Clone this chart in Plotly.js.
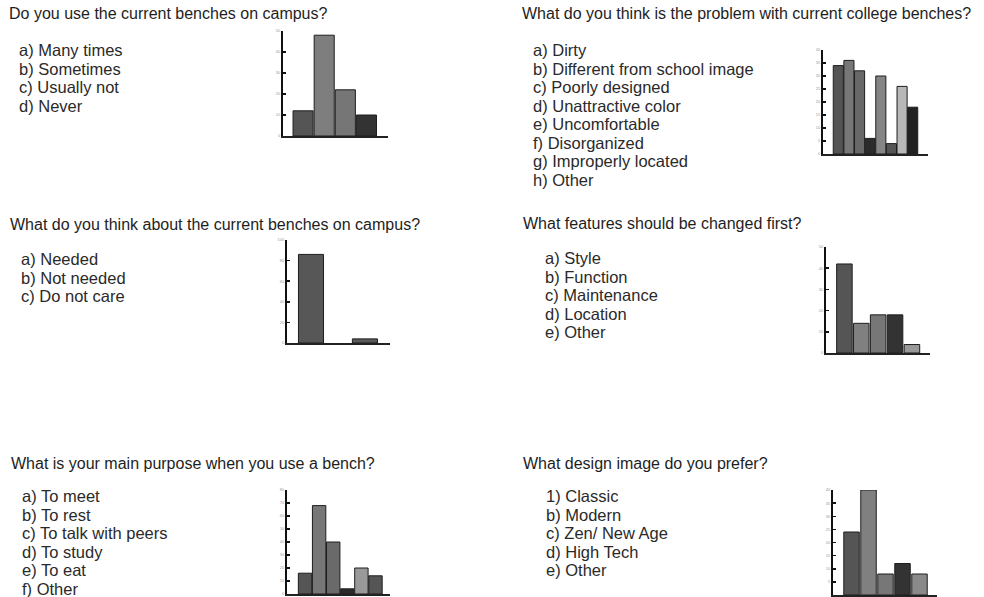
<!DOCTYPE html>
<html>
<head>
<meta charset="utf-8">
<script src="https://cdn.plot.ly/plotly-3.0.1.min.js"></script>
<style>html,body{margin:0;padding:0;background:#fff}#chart{width:984px;height:597px}</style>
</head>
<body>
<div id="chart"></div>
<script>
// ---- Data ----
const q1Title = "Do you use the current benches on campus?";
const q1Options = ["a) Many times", "b) Sometimes", "c) Usually not", "d) Never"];
const q1Values = [12, 48, 22, 10];

const q2Title = "What do you think is the problem with current college benches?";
const q2Options = ["a) Dirty", "b) Different from school image", "c) Poorly designed", "d) Unattractive color", "e) Uncomfortable", "f) Disorganized", "g) Improperly located", "h) Other"];
const q2Values = [34, 36, 32, 6, 30, 4, 26, 18];

const q3Title = "What do you think about the current benches on campus?";
const q3Options = ["a) Needed", "b) Not needed", "c) Do not care"];
const q3Values = [86, 0, 4];

const q4Title = "What features should be changed first?";
const q4Options = ["a) Style", "b) Function", "c) Maintenance", "d) Location", "e) Other"];
const q4Values = [42, 14, 18, 18, 4];

const q5Title = "What is your main purpose when you use a bench?";
const q5Options = ["a) To meet", "b) To rest", "c) To talk with peers", "d) To study", "e) To eat", "f) Other"];
const q5Values = [16, 68, 40, 4, 20, 14];

const q6Title = "What design image do you prefer?";
const q6Options = ["1) Classic", "b) Modern", "c) Zen/ New Age", "d) High Tech", "e) Other"];
const q6Values = [24, 40, 8, 12, 8];

// ---- Styles / layout (pixel geometry) ----
const W = 984, H = 597;
const fx = x => x / W;
const fy = y => 1 - y / H;

const panels = [
  {title: q1Title, opts: q1Options, vals: q1Values, tx: 7, ty: 13, ox: 17, oy: [50, 68.5, 87, 105.5],
   ax: 283, axEnd: 388, top: 31, base: 136, ymax: 50, dtick: 10, xr: [-0.95, 4.02], gap: 0.05,
   colors: ["#555555", "#7e7e7e", "#767676", "#333333"]},
  {title: q2Title, opts: q2Options, vals: q2Values, tx: 520, ty: 14, ox: 531, oy: [50, 68.5, 87, 105.5, 124, 142.5, 161, 179.5],
   ax: 823, axEnd: 928, top: 50, base: 154, ymax: 40, dtick: 5, xr: [-1.44, 8.44], gap: 0.05,
   colors: ["#545454", "#777777", "#686868", "#2b2b2b", "#858585", "#555555", "#b8b8b8", "#222222"]},
  {title: q3Title, opts: q3Options, vals: q3Values, tx: 8, ty: 225, ox: 19, oy: [259, 277.5, 296],
   ax: 287, axEnd: 390, top: 240, base: 343, ymax: 100, dtick: 20, xr: [-0.89, 2.93], gap: 0.07,
   colors: ["#575757", "#6a6a6a", "#5a5a5a"]},
  {title: q4Title, opts: q4Options, vals: q4Values, tx: 521, ty: 224, ox: 543, oy: [258, 276.5, 295, 313.5, 332],
   ax: 826, axEnd: 930, top: 247, base: 353, ymax: 50, dtick: 10, xr: [-1.09, 5.07], gap: 0.08,
   colors: ["#555555", "#808080", "#777777", "#333333", "#999999"]},
  {title: q5Title, opts: q5Options, vals: q5Values, tx: 9, ty: 463, ox: 20, oy: [496, 514.5, 533, 551.5, 570, 588.5],
   ax: 287, axEnd: 390, top: 490, base: 594, ymax: 80, dtick: 10, xr: [-1.28, 6.03], gap: 0.05,
   colors: ["#555555", "#777777", "#6a6a6a", "#2a2a2a", "#999999", "#555555"]},
  {title: q6Title, opts: q6Options, vals: q6Values, tx: 521, ty: 463, ox: 544, oy: [496, 514.5, 533, 551.5, 570],
   ax: 833, axEnd: 937, top: 490, base: 595, ymax: 40, dtick: 5, xr: [-1.09, 5.03], gap: 0.09,
   colors: ["#555555", "#808080", "#777777", "#333333", "#8a8a8a"]}
];

const FONT = "Liberation Sans, Arial, sans-serif";
const traces = [];
const annotations = [];
const layout = {
  width: W, height: H,
  margin: {l: 0, r: 0, t: 0, b: 0},
  paper_bgcolor: "#ffffff", plot_bgcolor: "rgba(0,0,0,0)",
  showlegend: false,
  font: {family: FONT},
  annotations: annotations
};

panels.forEach((p, i) => {
  const k = i === 0 ? "" : String(i + 1);
  const cats = p.opts.map((o, j) => j);
  traces.push({
    type: "bar", x: cats, y: p.vals, width: 1 - p.gap,
    xaxis: "x" + k, yaxis: "y" + k,
    marker: {color: p.colors, line: {color: "#1e1e1e", width: p.vals.map(v => v > 0 ? 1 : 0)}},
    hoverinfo: "y"
  });
  layout["xaxis" + k] = {
    domain: [fx(p.ax), fx(p.axEnd)], anchor: "y" + k, range: p.xr,
    showgrid: false, zeroline: false, showticklabels: false, ticks: "",
    showline: true, linecolor: "#222", linewidth: 1.5, fixedrange: true
  };
  layout["yaxis" + k] = {
    domain: [fy(p.base), fy(p.top)], anchor: "x" + k, range: [0, p.ymax],
    dtick: p.dtick, showgrid: false, zeroline: false,
    showline: true, linecolor: "#111", linewidth: 2,
    ticks: "inside", ticklen: 3, tickwidth: 1.5, tickcolor: "#111",
    tickfont: {size: 4, color: "#999999", family: FONT}, fixedrange: true
  };
  annotations.push({
    text: p.title, xref: "paper", yref: "paper", x: fx(p.tx), y: fy(p.ty),
    xanchor: "left", yanchor: "middle", showarrow: false,
    font: {size: 16, color: "#1e1e1e", family: FONT}
  });
  p.opts.forEach((o, j) => {
    annotations.push({
      text: o, xref: "paper", yref: "paper", x: fx(p.ox), y: fy(p.oy[j]),
      xanchor: "left", yanchor: "middle", showarrow: false,
      font: {size: 16.5, color: "#2a2a2a", family: FONT}
    });
  });
});

Plotly.newPlot("chart", traces, layout, {displayModeBar: false, staticPlot: true});
</script>
</body>
</html>
